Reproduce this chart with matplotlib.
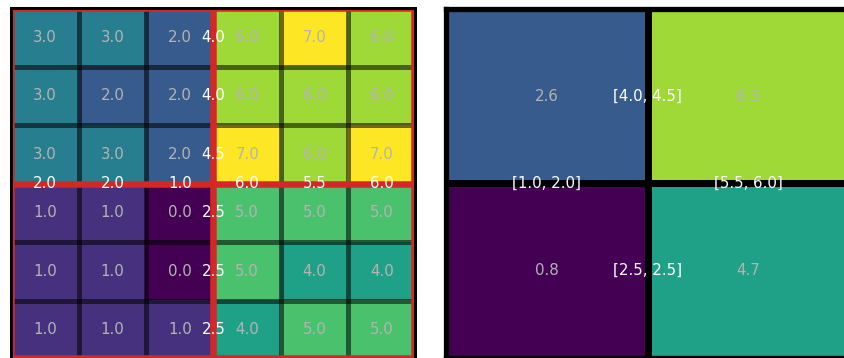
import numpy as np
import matplotlib
matplotlib.use("Agg")
import matplotlib.pyplot as plt
from matplotlib.patches import Rectangle

# 6x6 input grid, top row first
cells = np.array([
    [3, 3, 2, 6, 7, 6],
    [3, 2, 2, 6, 6, 6],
    [3, 3, 2, 7, 6, 7],
    [1, 1, 0, 5, 5, 5],
    [1, 1, 0, 5, 4, 4],
    [1, 1, 1, 4, 5, 5],
], dtype=float)

vmin, vmax = 0, 7
split = 3
red = "#d62728"
grey = "#b4b4b4"
fs = 10.8
px = 72 / 100  # points per pixel

# mean across the split lines
vert_mid = (cells[:, split - 1] + cells[:, split]) / 2
horz_mid = (cells[split - 1, :] + cells[split, :]) / 2

# 2x2 pooled blocks
blocks = cells.reshape(2, split, 2, split).swapaxes(1, 2)
block_mean = blocks.mean(axis=(2, 3))
block_min = blocks.min(axis=(2, 3))

fig = plt.figure(figsize=(8.45, 3.58), dpi=100)

# left: full grid
ax1 = fig.add_axes([11.5 / 845, -1 / 358, 404 / 845, 350.7 / 358])
ax1.imshow(cells, cmap="viridis", vmin=vmin, vmax=vmax, extent=(0, 6, 6, 0),
           aspect="auto", interpolation="nearest")
for k in (1, 2, 4, 5):
    ax1.axvline(k, color="black", alpha=0.55, lw=5 * px, zorder=2)
    ax1.axhline(k, color="black", alpha=0.55, lw=5 * px, zorder=2)
ax1.axvline(split, color=red, lw=6.5 * px, zorder=3)
ax1.axhline(split, color=red, lw=6.5 * px, zorder=3)
ax1.add_patch(Rectangle((0, 0), 6, 6, fill=False, edgecolor=red,
                        lw=7.5 * px, zorder=3))
for i in range(6):
    for j in range(6):
        ax1.text(j + 0.5, i + 0.5, f"{cells[i, j]:.1f}", ha="center",
                 va="center", color=grey, fontsize=fs, zorder=5)
for i in range(6):
    ax1.text(split, i + 0.5, f"{vert_mid[i]:.1f}", ha="center", va="center",
             color="white", fontsize=fs, zorder=6)
for j in range(6):
    ax1.text(j + 0.5, split, f"{horz_mid[j]:.1f}", ha="center", va="center",
             color="white", fontsize=fs, zorder=6)
ax1.set_xlim(0, 6)
ax1.set_ylim(6, 0)
ax1.set_xticks([])
ax1.set_yticks([])
for s in ax1.spines.values():
    s.set_color("black")
    s.set_linewidth(3 * px)
    s.set_zorder(4)

# right: pooled blocks
ax2 = fig.add_axes([446.5 / 845, 0.35 / 358, 402 / 845, 348.3 / 358])
ax2.imshow(block_min, cmap="viridis", vmin=vmin, vmax=vmax, extent=(0, 2, 2, 0),
           aspect="auto", interpolation="nearest")
ax2.axvline(1, color="black", lw=7 * px, zorder=2)
ax2.axhline(1, color="black", lw=7 * px, zorder=2)
for i in range(2):
    for j in range(2):
        ax2.text(j + 0.5, i + 0.5, f"{block_mean[i, j]:.1f}", ha="center",
                 va="center", color=grey, fontsize=fs, zorder=5)
for i in range(2):
    seg = vert_mid[i * split:(i + 1) * split]
    ax2.text(1, i + 0.5, f"[{seg.min():.1f}, {seg.max():.1f}]", ha="center",
             va="center", color="white", fontsize=fs, zorder=6)
for j in range(2):
    seg = horz_mid[j * split:(j + 1) * split]
    ax2.text(j + 0.5, 1, f"[{seg.min():.1f}, {seg.max():.1f}]", ha="center",
             va="center", color="white", fontsize=fs, zorder=6)
ax2.set_xlim(0, 2)
ax2.set_ylim(2, 0)
ax2.set_xticks([])
ax2.set_yticks([])
for s in ax2.spines.values():
    s.set_color("black")
    s.set_linewidth(5.3 * px)

fig.savefig("out.png", dpi=100)
